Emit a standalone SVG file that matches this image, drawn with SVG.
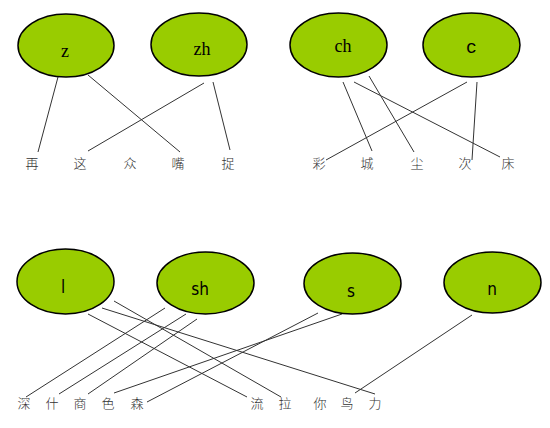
<svg xmlns="http://www.w3.org/2000/svg" width="550" height="428" viewBox="0 0 550 428">
<style>
.n ellipse{fill:#99CC00;stroke:#000;stroke-width:1.5}
.lbl{font-size:18px;fill:#000;text-anchor:middle}
.serif{font-family:"Liberation Serif","DejaVu Serif",serif}
.mono{font-family:"Liberation Mono",monospace}
.sans{font-family:"DejaVu Sans Condensed","DejaVu Sans",sans-serif;font-stretch:condensed;font-size:17px}
.hz{font-family:"Noto Sans CJK SC",sans-serif;font-size:13px;fill:#333;text-anchor:middle;font-weight:300}
#connectors line{stroke:#333;stroke-width:1}
</style>
<rect width="550" height="428" fill="#fff"/>
<g id="connectors">
<line x1="58" y1="77" x2="38" y2="152"/>
<line x1="88" y1="75" x2="180" y2="152"/>
<line x1="204" y1="83" x2="88" y2="151"/>
<line x1="213" y1="82" x2="230" y2="150"/>
<line x1="343" y1="82" x2="372" y2="151"/>
<line x1="369" y1="76" x2="414" y2="152"/>
<line x1="354" y1="82" x2="500" y2="157"/>
<line x1="467" y1="82" x2="326" y2="160"/>
<line x1="477" y1="82" x2="472" y2="160"/>
<line x1="114" y1="301" x2="281" y2="397"/>
<line x1="102" y1="308" x2="375" y2="394"/>
<line x1="88" y1="314" x2="247" y2="397"/>
<line x1="165" y1="308" x2="26" y2="397"/>
<line x1="186" y1="314" x2="59" y2="394"/>
<line x1="197" y1="319" x2="88" y2="394"/>
<line x1="318" y1="313" x2="147" y2="402"/>
<line x1="342" y1="314" x2="114" y2="393"/>
<line x1="472" y1="315" x2="355" y2="393"/>
</g>
<g id="node-z" class="n"><ellipse cx="66" cy="45.5" rx="48" ry="31.5"/><text class="lbl serif" x="65" y="57">z</text></g>
<g id="node-zh" class="n"><ellipse cx="199" cy="44.5" rx="48" ry="31.5"/><text class="lbl serif" x="202" y="55">zh</text></g>
<g id="node-ch" class="n"><ellipse cx="338.5" cy="45" rx="48.5" ry="32"/><text class="lbl serif" x="343" y="52">ch</text></g>
<g id="node-c" class="n"><ellipse cx="471.5" cy="45" rx="48.5" ry="32"/><text class="lbl mono" x="471.5" y="53">c</text></g>
<g id="node-l" class="n"><ellipse cx="65.5" cy="281.5" rx="48.5" ry="32.5"/><text class="lbl sans" x="63" y="293">l</text></g>
<g id="node-sh" class="n"><ellipse cx="205.5" cy="283" rx="48.5" ry="31"/><text class="lbl sans" x="200" y="295">sh</text></g>
<g id="node-s" class="n"><ellipse cx="352.5" cy="283.5" rx="48.5" ry="30.5"/><text class="lbl sans" x="351" y="297">s</text></g>
<g id="node-n" class="n"><ellipse cx="492.5" cy="282.5" rx="48.5" ry="30.5"/><text class="lbl sans" x="492" y="295">n</text></g>
<g id="chars">
<text class="hz" x="32" y="168">再</text>
<text class="hz" x="80" y="168">这</text>
<text class="hz" x="130" y="168">众</text>
<text class="hz" x="178" y="168">嘴</text>
<text class="hz" x="228" y="168">捉</text>
<text class="hz" x="319" y="168">彩</text>
<text class="hz" x="367" y="168">城</text>
<text class="hz" x="417" y="168">尘</text>
<text class="hz" x="465" y="168">次</text>
<text class="hz" x="508" y="168">床</text>
<text class="hz" x="24" y="408">深</text>
<text class="hz" x="52" y="408">什</text>
<text class="hz" x="80" y="408">商</text>
<text class="hz" x="108" y="408">色</text>
<text class="hz" x="137" y="408">森</text>
<text class="hz" x="257" y="408">流</text>
<text class="hz" x="285" y="408">拉</text>
<text class="hz" x="320" y="408">你</text>
<text class="hz" x="347" y="408">鸟</text>
<text class="hz" x="375" y="408">力</text>
</g>
</svg>
